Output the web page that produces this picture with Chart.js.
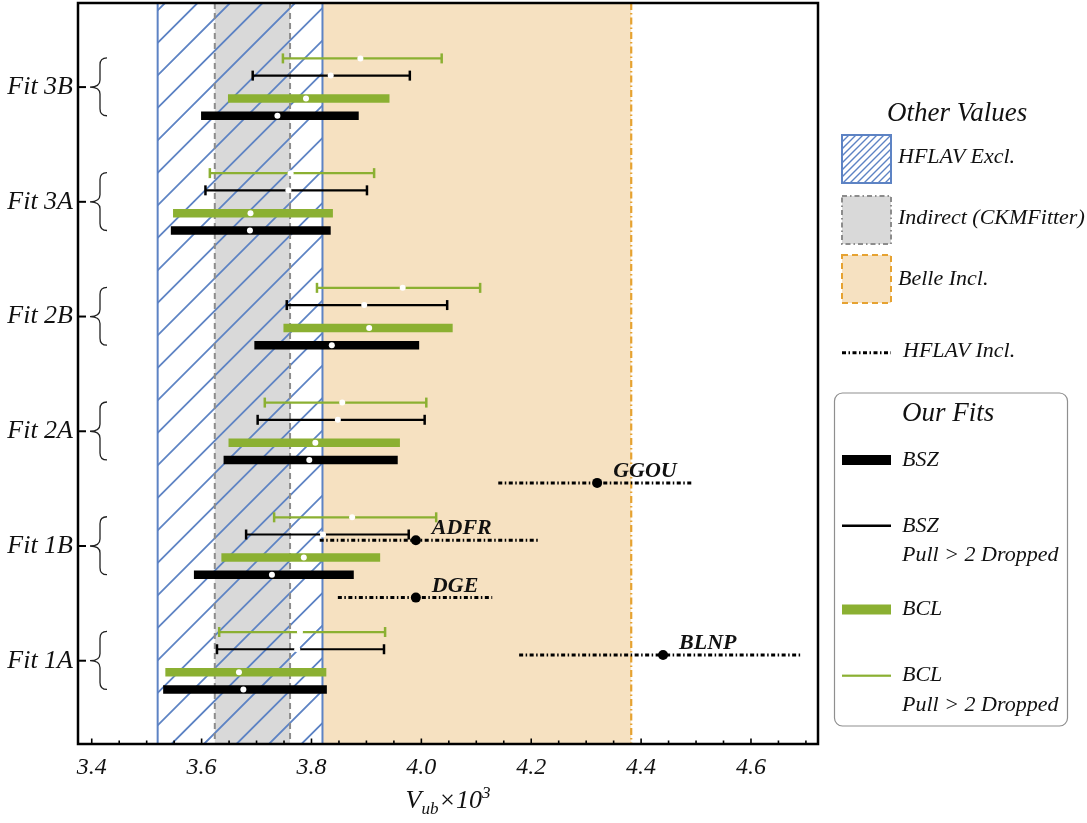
<!DOCTYPE html>
<html><head><meta charset="utf-8">
<script src="https://cdn.jsdelivr.net/npm/chart.js@4"></script>
<style>
html,body{margin:0;padding:0;background:#fff;}
#wrap{position:relative;width:1087px;height:823px;overflow:hidden;background:#fff;}
#c{position:absolute;left:0;top:0;width:1087px;height:823px;}
.t{position:absolute;font-family:"Liberation Serif","Times New Roman",serif;font-style:italic;color:#111;white-space:nowrap;line-height:1;transform:translateY(-50%);font-size:22px;}
.h{font-size:27px;}
#xt{position:absolute;left:448px;top:800px;transform:translate(-50%,-50%);font-family:"Liberation Serif","Times New Roman",serif;font-style:italic;font-size:26px;color:#111;white-space:nowrap;line-height:1;}
#xt sub{font-size:17px;vertical-align:-6px;}
#xt sup{font-size:17px;vertical-align:10px;}
</style></head><body>
<div id="wrap">
<canvas id="c" width="1087" height="823"></canvas>
<div class="t h" style="left:887px;top:112px;">Other Values</div>
<div class="t" style="left:898px;top:156px;">HFLAV Excl.</div>
<div class="t" style="left:898px;top:217px;">Indirect (CKMFitter)</div>
<div class="t" style="left:898px;top:278px;">Belle Incl.</div>
<div class="t" style="left:903px;top:350px;">HFLAV Incl.</div>
<div class="t h" style="left:902px;top:412px;">Our Fits</div>
<div class="t" style="left:902px;top:459px;">BSZ</div>
<div class="t" style="left:902px;top:525px;">BSZ</div>
<div class="t" style="left:902px;top:554px;">Pull &gt; 2 Dropped</div>
<div class="t" style="left:902px;top:608px;">BCL</div>
<div class="t" style="left:902px;top:674px;">BCL</div>
<div class="t" style="left:902px;top:704px;">Pull &gt; 2 Dropped</div>
<div id="xt">V<sub>ub</sub>×10<sup>3</sup></div>
</div>
<script>
// ---- data ----
const fits = ['Fit 1A','Fit 1B','Fit 2A','Fit 2B','Fit 3A','Fit 3B'];
const fitPos = [1,2,3,4,5,6];
const xTicks = [3.4,3.6,3.8,4.0,4.2,4.4,4.6];

const bszC  = [3.676,3.728,3.796,3.837,3.688,3.738];
const bszLo = [3.530,3.586,3.640,3.696,3.544,3.599];
const bszHi = [3.828,3.877,3.957,3.996,3.835,3.886];

const bclC  = [3.668,3.786,3.807,3.905,3.689,3.790];
const bclLo = [3.534,3.636,3.649,3.749,3.548,3.648];
const bclHi = [3.827,3.925,3.961,4.057,3.839,3.942];

const bszDC  = [3.774,3.821,3.848,3.896,3.758,3.835];
const bszDLo = [3.628,3.681,3.702,3.755,3.607,3.693];
const bszDHi = [3.932,3.977,4.006,4.047,3.901,3.979];

const bclDC  = [3.779,3.874,3.856,3.966,3.762,3.889];
const bclDLo = [3.632,3.732,3.715,3.810,3.615,3.748];
const bclDHi = [3.934,4.027,4.009,4.107,3.914,4.037];

const inclNames = ['GGOU','ADFR','DGE','BLNP'];
const inclC  = [4.320,3.990,3.990,4.440];
const inclLo = [4.140,3.815,3.848,4.178];
const inclHi = [4.493,4.212,4.129,4.690];
const inclY  = [2.55,2.05,1.55,1.05];

const hflavExcl = [3.52,3.82];
const ckmBand   = [3.624,3.761];
const belleBand = [3.82,4.382];

// ---- styles ----
const GREEN = '#8bb032';
const BLUE = '#5d83c4';
const series = [
  {c:bszC, lo:bszLo, hi:bszHi, off:-0.25, color:'#000', w:8.5, cap:false},
  {c:bclC, lo:bclLo, hi:bclHi, off:-0.10, color:GREEN, w:8.5, cap:false},
  {c:bszDC, lo:bszDLo, hi:bszDHi, off:0.10, color:'#000', w:2.2, cap:true},
  {c:bclDC, lo:bclDLo, hi:bclDHi, off:0.25, color:GREEN, w:2.2, cap:true}
];

const datasets = [];
series.forEach(s => {
  s.c.forEach((v,i) => {
    const yy = fitPos[i] + s.off;
    datasets.push({
      type:'scatter', showLine:true,
      data:[{x:s.lo[i],y:yy},{x:s.hi[i],y:yy}],
      borderColor:s.color, borderWidth:s.w, borderCapStyle:'butt',
      pointRadius:s.cap?5:0, pointStyle:'line', rotation:90,
      pointBorderColor:s.color, pointBorderWidth:2.5, order:3
    });
  });
  datasets.push({
    type:'scatter',
    data:s.c.map((v,i)=>({x:v,y:fitPos[i]+s.off})),
    pointRadius:3, pointBackgroundColor:'#fff', pointBorderWidth:0, pointStyle:'circle', order:1
  });
});
inclC.forEach((v,i) => {
  datasets.push({
    type:'scatter', showLine:true,
    data:[{x:inclLo[i],y:inclY[i]},{x:inclHi[i],y:inclY[i]}],
    borderColor:'#000', borderWidth:3, borderDash:[4,2.5,1.5,2.5], borderCapStyle:'butt',
    pointRadius:0, order:4
  });
});
datasets.push({
  type:'scatter',
  data:inclC.map((v,i)=>({x:v,y:inclY[i]})),
  pointRadius:5, pointBackgroundColor:'#000', pointBorderWidth:0, order:2
});

function hatch(ctx, x0, y0, x1, y1, sp, phase){
  ctx.save();
  ctx.beginPath(); ctx.rect(x0,y0,x1-x0,y1-y0); ctx.clip();
  ctx.beginPath();
  const kmin = x0 + y0, kmax = x1 + y1;
  let k = phase - Math.ceil((phase - kmin)/sp)*sp;
  for(; k <= kmax + sp; k += sp){
    ctx.moveTo(k - y1, y1);
    ctx.lineTo(k - y0, y0);
  }
  ctx.stroke();
  ctx.restore();
}

const bandPlugin = {
  id:'bands',
  beforeDatasetsDraw(chart){
    const {ctx, chartArea:a, scales:{x}} = chart;
    ctx.save();
    ctx.beginPath(); ctx.rect(a.left,a.top,a.right-a.left,a.bottom-a.top); ctx.clip();
    const bx0 = x.getPixelForValue(belleBand[0]), bx1 = x.getPixelForValue(belleBand[1]);
    ctx.fillStyle = '#f6e1c1';
    ctx.fillRect(bx0, a.top, bx1-bx0, a.bottom-a.top);
    const cx0 = x.getPixelForValue(ckmBand[0]), cx1 = x.getPixelForValue(ckmBand[1]);
    ctx.fillStyle = '#d9d9d9';
    ctx.fillRect(cx0, a.top, cx1-cx0, a.bottom-a.top);
    const hx0 = x.getPixelForValue(hflavExcl[0]), hx1 = x.getPixelForValue(hflavExcl[1]);
    ctx.strokeStyle = BLUE; ctx.lineWidth = 1.8;
    hatch(ctx, hx0, a.top, hx1, a.bottom, 32.5, 428);
    ctx.strokeStyle = '#8c8c8c'; ctx.lineWidth = 2; ctx.setLineDash([6,4]);
    [cx0,cx1].forEach(px => { ctx.beginPath(); ctx.moveTo(px,a.top); ctx.lineTo(px,a.bottom); ctx.stroke(); });
    ctx.strokeStyle = '#e6a231'; ctx.lineWidth = 2.2; ctx.setLineDash([7,3,1.5,3]);
    ctx.beginPath(); ctx.moveTo(bx1,a.top); ctx.lineTo(bx1,a.bottom); ctx.stroke();
    ctx.setLineDash([]);
    ctx.strokeStyle = BLUE; ctx.lineWidth = 2;
    [hx0,hx1].forEach(px => { ctx.beginPath(); ctx.moveTo(px,a.top); ctx.lineTo(px,a.bottom); ctx.stroke(); });
    ctx.restore();
  },
  afterDatasetsDraw(chart){
    const {ctx, scales:{x,y}} = chart;
    ctx.save();
    ctx.fillStyle = '#111';
    ctx.font = 'italic bold 22px "Liberation Serif", serif';
    ctx.textBaseline = 'alphabetic';
    inclNames.forEach((n,i) => {
      ctx.fillText(n, x.getPixelForValue(inclC[i]) + 16, y.getPixelForValue(inclY[i]) - 6);
    });
    ctx.restore();
  },
  afterDraw(chart){
    const {ctx, chartArea:a, scales:{x,y}} = chart;
    ctx.save();
    ctx.strokeStyle = '#000'; ctx.lineWidth = 2.5;
    ctx.strokeRect(a.left, a.top, a.right-a.left, a.bottom-a.top);
    ctx.lineWidth = 1.6;
    for(let v = 3.4; v < x.max; v += 0.05){
      const vv = Math.round(v*100)/100;
      const major = Math.abs(vv*5 - Math.round(vv*5)) < 1e-6;
      const px = x.getPixelForValue(vv);
      ctx.beginPath(); ctx.moveTo(px, a.bottom); ctx.lineTo(px, a.bottom - (major?5.5:3.5)); ctx.stroke();
    }
    fitPos.forEach(v => {
      const py = y.getPixelForValue(v);
      ctx.lineWidth = 2; ctx.strokeStyle = '#000';
      ctx.beginPath(); ctx.moveTo(a.left, py); ctx.lineTo(a.left+8, py); ctx.stroke();
      const t = y.getPixelForValue(v + 0.255), b = y.getPixelForValue(v - 0.25);
      const bx = a.left + 22, tip = a.left + 12, end = a.left + 29;
      ctx.lineWidth = 1.3; ctx.strokeStyle = '#222';
      ctx.beginPath();
      ctx.moveTo(end, t);
      ctx.quadraticCurveTo(bx, t, bx, t + 7);
      ctx.lineTo(bx, py - 7);
      ctx.quadraticCurveTo(bx, py, tip, py);
      ctx.quadraticCurveTo(bx, py, bx, py + 7);
      ctx.lineTo(bx, b - 7);
      ctx.quadraticCurveTo(bx, b, end, b);
      ctx.stroke();
    });
    ctx.fillStyle = '#fff'; ctx.fillRect(842,135,49,48);
    ctx.strokeStyle = BLUE; ctx.lineWidth = 1.4;
    hatch(ctx, 842, 135, 891, 183, 7, 977);
    ctx.lineWidth = 2; ctx.strokeRect(842,135,49,48);
    ctx.fillStyle = '#d9d9d9'; ctx.fillRect(842,196,49,48);
    ctx.strokeStyle = '#8c8c8c'; ctx.setLineDash([5,3,1.5,3]); ctx.strokeRect(842,196,49,48);
    ctx.fillStyle = '#f6e1c1'; ctx.fillRect(842,255,49,48);
    ctx.strokeStyle = '#e6a231'; ctx.setLineDash([6,4]); ctx.strokeRect(842,255,49,48);
    ctx.strokeStyle = '#000'; ctx.lineWidth = 3; ctx.setLineDash([4,2.5,1.5,2.5]);
    ctx.beginPath(); ctx.moveTo(842,352.7); ctx.lineTo(891,352.7); ctx.stroke();
    ctx.setLineDash([]);
    ctx.strokeStyle = '#8f8f8f'; ctx.lineWidth = 1.2;
    ctx.beginPath(); ctx.roundRect(834.5,393,233,333,8); ctx.stroke();
    ctx.fillStyle = '#000';
    ctx.fillRect(842,455,49,10);
    ctx.fillRect(842,524.5,49,2.5);
    ctx.fillStyle = GREEN;
    ctx.fillRect(842,604.5,49,10);
    ctx.fillRect(842,674.6,49,2.2);
    ctx.restore();
  }
};

new Chart(document.getElementById('c'), {
  type:'scatter',
  data:{datasets},
  plugins:[bandPlugin],
  options:{
    responsive:false, animation:false, events:[],
    layout:{autoPadding:false, padding:{left:0, right:269, top:3, bottom:0}},
    plugins:{legend:{display:false}, tooltip:{enabled:false}},
    scales:{
      x:{
        type:'linear', min:3.375, max:4.722,
        grid:{display:false, drawTicks:false},
        border:{display:false},
        afterBuildTicks:s => { s.ticks = xTicks.map(v=>({value:v})); },
        afterFit:s => { s.height = 79; s.paddingLeft = 0; s.paddingRight = 0; },
        ticks:{
          padding:9, autoSkip:false, maxRotation:0, color:'#111',
          font:{family:'"Liberation Serif", serif', style:'italic', size:24},
          callback:v => Number(v).toFixed(1)
        }
      },
      y:{
        type:'linear', min:0.274, max:6.733,
        grid:{display:false, drawTicks:false},
        border:{display:false},
        afterBuildTicks:s => { s.ticks = fitPos.map(v=>({value:v})); },
        afterFit:s => { s.width = 78; s.paddingTop = 0; s.paddingBottom = 0; },
        ticks:{
          padding:5, autoSkip:false, color:'#111',
          font:{family:'"Liberation Serif", serif', style:'italic', size:26},
          callback:v => fits[Math.round(v)-1]
        }
      }
    }
  }
});
</script>
</body></html>
